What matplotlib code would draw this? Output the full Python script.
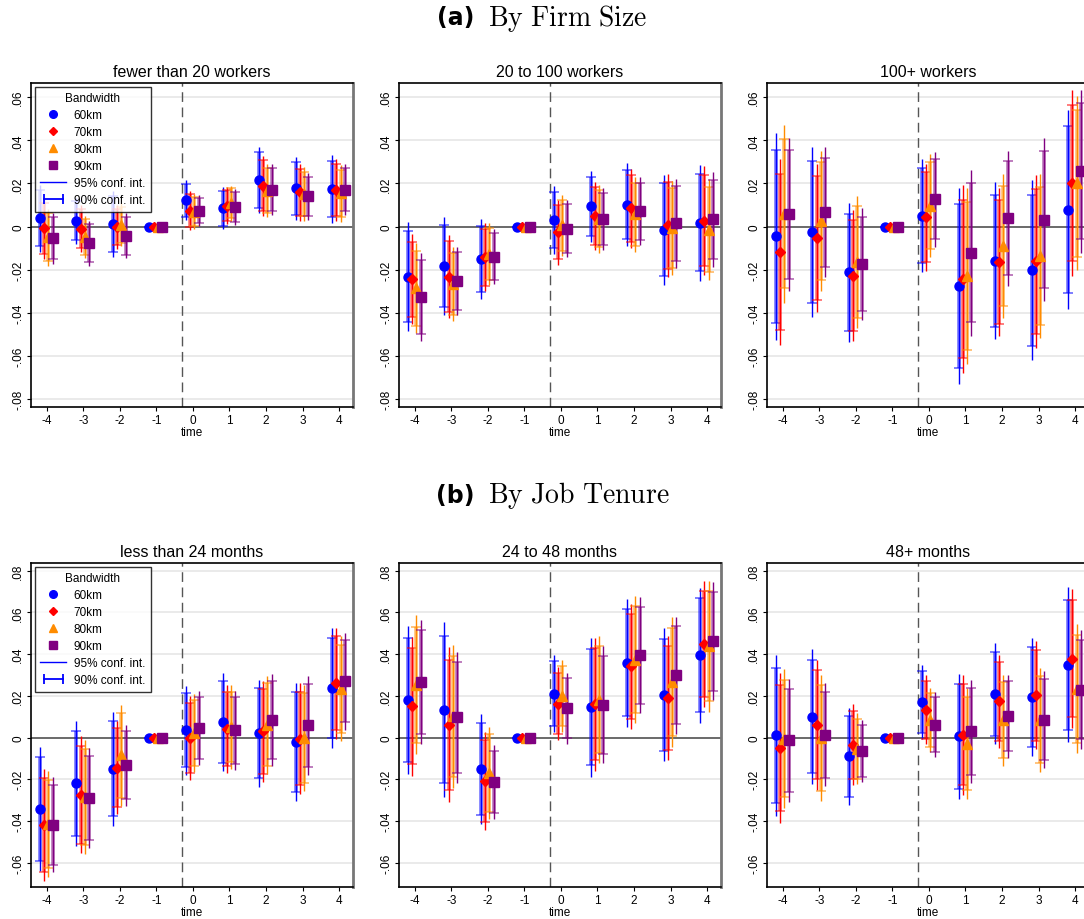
import matplotlib
matplotlib.use("Agg")
import matplotlib.pyplot as plt
import numpy as np
from matplotlib.lines import Line2D
from matplotlib.legend_handler import HandlerLine2D

plt.rcParams['font.family'] = ['Liberation Sans', 'DejaVu Sans']
plt.rcParams['mathtext.fontset'] = 'cm'

time = [-4, -3, -2, -1, 0, 1, 2, 3, 4]
bandwidths = ["60km", "70km", "80km", "90km"]

# coefficients / standard errors, one row per bandwidth (60, 70, 80, 90 km)
lt20_coef = [[0.0039, 0.0026, 0.0012, 0, 0.0122, 0.0085, 0.0216, 0.0178, 0.0174],
             [-0.0008, -0.0009, -0.0002, 0, 0.0074, 0.0096, 0.0190, 0.0159, 0.0170],
             [-0.0050, -0.0049, 0.0008, 0, 0.0069, 0.0108, 0.0167, 0.0151, 0.0154],
             [-0.0054, -0.0077, -0.0043, 0, 0.0074, 0.0090, 0.0171, 0.0140, 0.0171]]
lt20_se = [[0.0079, 0.0055, 0.0078, 0, 0.0047, 0.0050, 0.0078, 0.0075, 0.0080],
           [0.0072, 0.0055, 0.0052, 0, 0.0046, 0.0044, 0.0071, 0.0067, 0.0074],
           [0.0068, 0.0050, 0.0051, 0, 0.0041, 0.0042, 0.0063, 0.0063, 0.0067],
           [0.0060, 0.0053, 0.0053, 0, 0.0036, 0.0042, 0.0061, 0.0055, 0.0061]]

mid_coef = [[-0.0232, -0.0184, -0.0150, 0, 0.0031, 0.0094, 0.0102, -0.0014, 0.0017],
            [-0.0244, -0.0232, -0.0142, 0, -0.0026, 0.0048, 0.0085, 0.0005, 0.0028],
            [-0.0286, -0.0266, -0.0127, 0, 0.0005, 0.0036, 0.0056, -0.0006, -0.0014],
            [-0.0327, -0.0253, -0.0139, 0, -0.0009, 0.0034, 0.0071, 0.0015, 0.0034]]
mid_se = [[0.0129, 0.0116, 0.0094, 0, 0.0080, 0.0084, 0.0098, 0.0130, 0.0137],
          [0.0106, 0.0099, 0.0080, 0, 0.0077, 0.0081, 0.0094, 0.0123, 0.0129],
          [0.0106, 0.0087, 0.0073, 0, 0.0073, 0.0080, 0.0089, 0.0112, 0.0119],
          [0.0104, 0.0081, 0.0066, 0, 0.0068, 0.0073, 0.0081, 0.0105, 0.0112]]

big_coef = [[-0.0046, -0.0026, -0.0212, 0, 0.0051, -0.0276, -0.0159, -0.0202, 0.0079],
            [-0.0116, -0.0053, -0.0227, 0, 0.0043, -0.0242, -0.0164, -0.0162, 0.0202],
            [0.0059, 0.0025, -0.0165, 0, 0.0097, -0.0230, -0.0091, -0.0137, 0.0200],
            [0.0056, 0.0066, -0.0173, 0, 0.0127, -0.0122, 0.0039, 0.0031, 0.0256]]
big_se = [[0.0245, 0.0201, 0.0165, 0, 0.0134, 0.0232, 0.0186, 0.0213, 0.0235],
          [0.0220, 0.0175, 0.0156, 0, 0.0127, 0.0223, 0.0176, 0.0205, 0.0220],
          [0.0210, 0.0166, 0.0157, 0, 0.0122, 0.0208, 0.0170, 0.0195, 0.0206],
          [0.0182, 0.0154, 0.0133, 0, 0.0112, 0.0196, 0.0160, 0.0193, 0.0192]]

ten_short_coef = [[-0.0342, -0.0219, -0.0150, 0, 0.0034, 0.0074, 0.0021, -0.0022, 0.0238],
                  [-0.0418, -0.0274, -0.0144, 0, -0.0003, 0.0042, 0.0030, -0.0006, 0.0261],
                  [-0.0414, -0.0286, -0.0086, 0, 0.0022, 0.0050, 0.0062, -0.0002, 0.0234],
                  [-0.0418, -0.0291, -0.0133, 0, 0.0045, 0.0034, 0.0083, 0.0058, 0.0270]]
ten_short_se = [[0.0152, 0.0153, 0.0139, 0, 0.0108, 0.0120, 0.0131, 0.0145, 0.0146],
                [0.0137, 0.0143, 0.0114, 0, 0.0102, 0.0108, 0.0124, 0.0136, 0.0136],
                [0.0129, 0.0139, 0.0123, 0, 0.0095, 0.0102, 0.0120, 0.0130, 0.0128],
                [0.0117, 0.0122, 0.0099, 0, 0.0090, 0.0097, 0.0113, 0.0122, 0.0119]]

ten_mid_coef = [[0.0181, 0.0134, -0.0150, 0, 0.0210, 0.0146, 0.0358, 0.0205, 0.0394],
                [0.0149, 0.0061, -0.0208, 0, 0.0163, 0.0160, 0.0341, 0.0190, 0.0450],
                [0.0254, 0.0101, -0.0171, 0, 0.0198, 0.0182, 0.0374, 0.0266, 0.0438],
                [0.0266, 0.0096, -0.0214, 0, 0.0141, 0.0158, 0.0394, 0.0298, 0.0462]]
ten_mid_se = [[0.0181, 0.0215, 0.0134, 0, 0.0094, 0.0170, 0.0156, 0.0163, 0.0166],
              [0.0169, 0.0190, 0.0119, 0, 0.0090, 0.0163, 0.0152, 0.0151, 0.0154],
              [0.0169, 0.0176, 0.0113, 0, 0.0088, 0.0156, 0.0155, 0.0158, 0.0160],
              [0.0152, 0.0161, 0.0091, 0, 0.0087, 0.0143, 0.0142, 0.0143, 0.0144]]

ten_long_coef = [[0.0010, 0.0099, -0.0091, 0, 0.0170, 0.0005, 0.0210, 0.0194, 0.0349],
                 [-0.0051, 0.0061, -0.0034, 0, 0.0133, 0.0014, 0.0173, 0.0202, 0.0378],
                 [-0.0006, -0.0002, -0.0054, 0, 0.0085, -0.0030, 0.0082, 0.0085, 0.0234],
                 [-0.0014, 0.0013, -0.0066, 0, 0.0062, 0.0029, 0.0102, 0.0086, 0.0230]]
ten_long_se = [[0.0196, 0.0165, 0.0119, 0, 0.0091, 0.0153, 0.0123, 0.0145, 0.0190],
               [0.0183, 0.0159, 0.0099, 0, 0.0084, 0.0147, 0.0114, 0.0132, 0.0170],
               [0.0170, 0.0154, 0.0087, 0, 0.0079, 0.0136, 0.0111, 0.0127, 0.0158],
               [0.0150, 0.0126, 0.0076, 0, 0.0079, 0.0126, 0.0102, 0.0118, 0.0145]]

colors = ['#0000FF', '#FF0000', '#FF8C00', '#800080']
markers = ['o', 'D', '^', 's']
msizes = [6.5, 5.5, 7, 7]
offsets = [-0.19, -0.075, 0.04, 0.16]
Z95, Z90 = 1.96, 1.645


def draw_panel(ax, title, coef, se, yticks, ylabels, ylim, legend=False):
    ax.set_xlim(-4.43, 4.38)
    ax.set_ylim(*ylim)
    for y in yticks:
        ax.axhline(y, color='#e6e6e6', lw=1.2, zorder=0)
    ax.axhline(0, color='#555555', lw=1.2, zorder=1)
    ax.axvline(-0.3, color='#555555', lw=1.0, ls=(0, (7, 4)), zorder=1)

    t = np.array(time, dtype=float)
    for k in range(4):
        b = np.array(coef[k])
        s = np.array(se[k])
        x = t + offsets[k]
        ax.vlines(x, b - Z95 * s, b + Z95 * s, color=colors[k], lw=1.0, zorder=2 + k)
        ax.errorbar(x, b, yerr=Z90 * s, fmt='none', ecolor=colors[k], alpha=0.55,
                    elinewidth=2.6, capsize=3.5, capthick=1.3, zorder=2 + k)
        ax.plot(x, b, ls='none', marker=markers[k], ms=msizes[k], color=colors[k],
                mec=colors[k], zorder=10 + k)

    ax.set_title(title, fontsize=11.5, pad=5)
    ax.set_yticks(yticks)
    ax.set_yticklabels(ylabels, rotation=90, va='center', fontsize=8.5)
    ax.set_xticks(time)
    ax.set_xticklabels([str(v) for v in time], fontsize=8.5)
    ax.set_xlabel("time", fontsize=8.5, labelpad=0)
    ax.tick_params(direction='out', length=3, width=0.8, pad=2)
    for side in ['left', 'top', 'bottom']:
        ax.spines[side].set_linewidth(1.2)
        ax.spines[side].set_color('black')
    ax.spines['right'].set_linewidth(2.0)
    ax.spines['right'].set_color('#777777')

    if legend:
        handles = [Line2D([], [], ls='none', marker=markers[k], ms=msizes[k] - 1,
                          color=colors[k]) for k in range(4)]
        h95 = Line2D([], [], color=colors[0], lw=1.0)
        h90 = Line2D([], [], color=colors[0], lw=1.3, marker='|', ms=7, mew=1.3)
        handles += [h95, h90]
        labels = bandwidths + ["95% conf. int.", "90% conf. int."]
        leg = ax.legend(handles, labels, title="Bandwidth", loc='upper left',
                        bbox_to_anchor=(0.0, 1.0), fontsize=8.5, title_fontsize=8.5,
                        frameon=True, fancybox=False, edgecolor='black',
                        borderpad=0.5, labelspacing=0.42, handlelength=2.2,
                        handletextpad=0.6, borderaxespad=0.3,
                        handler_map={h90: HandlerLine2D(numpoints=2)})
        leg.get_frame().set_linewidth(1.0)
        leg.set_zorder(30)


fig = plt.figure(figsize=(10.84, 9.2), dpi=100)
W, H = 1084, 920
lefts = [31, 399, 767]
aw, ah = 322, 324

top_ticks = [-0.08, -0.06, -0.04, -0.02, 0, 0.02, 0.04, 0.06]
top_labels = ["-.08", "-.06", "-.04", "-.02", "0", ".02", ".04", ".06"]
bot_ticks = [-0.06, -0.04, -0.02, 0, 0.02, 0.04, 0.06, 0.08]
bot_labels = ["-.06", "-.04", "-.02", "0", ".02", ".04", ".06", ".08"]

top_panels = [("fewer than 20 workers", lt20_coef, lt20_se),
              ("20 to 100 workers", mid_coef, mid_se),
              ("100+ workers", big_coef, big_se)]
bot_panels = [("less than 24 months", ten_short_coef, ten_short_se),
              ("24 to 48 months", ten_mid_coef, ten_mid_se),
              ("48+ months", ten_long_coef, ten_long_se)]

for i, (title, c, s) in enumerate(top_panels):
    ax = fig.add_axes([lefts[i] / W, 1 - 408 / H, aw / W, ah / H])
    draw_panel(ax, title, c, s, top_ticks, top_labels, (-0.0837, 0.0666), legend=(i == 0))

for i, (title, c, s) in enumerate(bot_panels):
    ax = fig.add_axes([lefts[i] / W, 1 - 888 / H, aw / W, ah / H])
    draw_panel(ax, title, c, s, bot_ticks, bot_labels, (-0.0717, 0.0837), legend=(i == 0))

# section headings
for label, text, ypix in [("(a)", r"$\mathrm{By\ Firm\ Size}$", 18),
                          ("(b)", r"$\mathrm{By\ Job\ Tenure}$", 496)]:
    fig.text(474 / W, 1 - ypix / H, label, fontsize=17, fontweight='bold',
             family='DejaVu Sans', ha='right', va='center')
    fig.text(488 / W, 1 - ypix / H, text, fontsize=20, ha='left', va='center')

fig.savefig("out.png", dpi=100)
